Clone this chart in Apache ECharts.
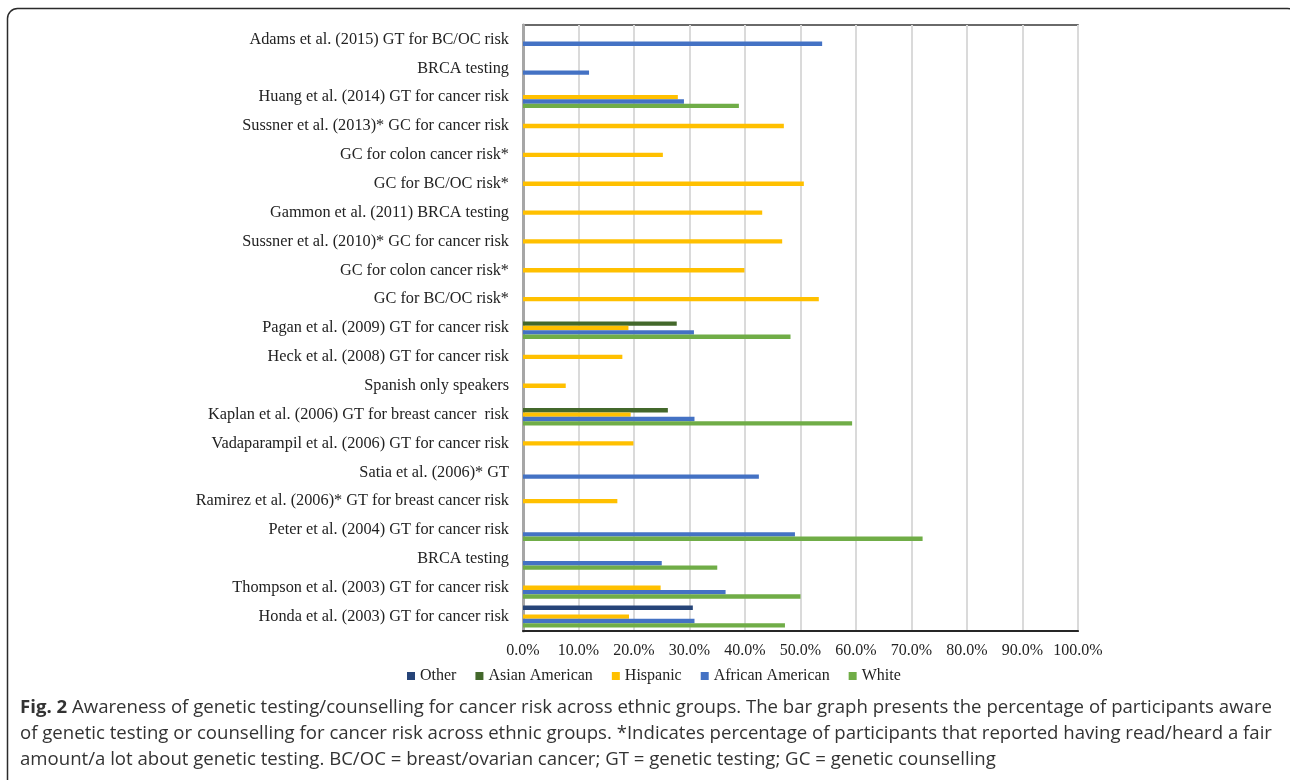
<!DOCTYPE html>
<html>
<head>
<meta charset="utf-8">
<script src="https://cdn.jsdelivr.net/npm/echarts@6/dist/echarts.min.js"></script>
<style>
  html, body { margin: 0; padding: 0; background: #fff; }
  #chart { width: 1290px; height: 780px; }
</style>
</head>
<body>
<div id="chart"></div>
<script>
// Studies / sub-groups, listed top to bottom
const categories = [
  'Adams et al. (2015) GT for BC/OC risk',
  'BRCA testing',
  'Huang et al. (2014) GT for cancer risk',
  'Sussner et al. (2013)* GC for cancer risk',
  'GC for colon cancer risk*',
  'GC for BC/OC risk*',
  'Gammon et al. (2011) BRCA testing',
  'Sussner et al. (2010)* GC for cancer risk',
  'GC for colon cancer risk*',
  'GC for BC/OC risk*',
  'Pagan et al. (2009) GT for cancer risk',
  'Heck et al. (2008) GT for cancer risk',
  'Spanish only speakers',
  'Kaplan et al. (2006) GT for breast cancer  risk',
  'Vadaparampil et al. (2006) GT for cancer risk',
  'Satia et al. (2006)* GT',
  'Ramirez et al. (2006)* GT for breast cancer risk',
  'Peter et al. (2004) GT for cancer risk',
  'BRCA testing',
  'Thompson et al. (2003) GT for cancer risk',
  'Honda et al. (2003) GT for cancer risk'
];

// Percentage aware, per ethnic group (null = not reported)
const other = [null, null, null, null, null, null, null, null, null, null, null, null, null, null, null, null, null, null, null, null, 30.6];
const asianAmerican = [null, null, null, null, null, null, null, null, null, null, 27.7, null, null, 26.1, null, null, null, null, null, null, null];
const hispanic = [null, null, 27.9, 47.0, 25.2, 50.6, 43.1, 46.7, 39.9, 53.3, 19.0, 17.9, 7.7, 19.4, 19.9, null, 17.0, null, null, 24.8, 19.1];
const africanAmerican = [53.9, 11.9, 29.0, null, null, null, null, null, null, null, 30.8, null, null, 30.9, null, 42.5, null, 49.0, 25.0, 36.5, 30.9];
const white = [null, null, 38.9, null, null, null, null, null, null, null, 48.2, null, null, 59.3, null, null, null, 72.0, 35.0, 50.0, 47.2];

const seriesNames = ['Other', 'Asian American', 'Hispanic', 'African American', 'White'];
const seriesData = [other, asianAmerican, hispanic, africanAmerican, white];
const seriesColors = ['#264478', '#43682B', '#FFC000', '#4472C4', '#70AD47'];

const xTicks = { min: 0, max: 100, interval: 10 };

const captionLines = [
  '{b|Fig. 2} Awareness of genetic testing/counselling for cancer risk across ethnic groups. The bar graph presents the percentage of participants aware',
  'of genetic testing or counselling for cancer risk across ethnic groups. *Indicates percentage of participants that reported having read/heard a fair',
  'amount/a lot about genetic testing. BC/OC = breast/ovarian cancer; GT = genetic testing; GC = genetic counselling'
];

const serif = '"Liberation Serif", "DejaVu Serif", serif';
const sans = '"Open Sans", "Noto Sans", sans-serif';

const chart = echarts.init(document.getElementById('chart'), null, { renderer: 'canvas' });

chart.setOption({
  backgroundColor: '#ffffff',
  animation: false,
  title: {
    left: 20,
    top: 695,
    padding: 0,
    text: captionLines.join('\n'),
    textStyle: {
      fontFamily: sans,
      fontSize: 18.6,
      fontWeight: 'normal',
      lineHeight: 26,
      color: '#333333',
      rich: {
        b: { fontFamily: sans, fontSize: 18.6, fontWeight: 'bold', color: '#333333', lineHeight: 26 }
      }
    }
  },
  graphic: [{
    type: 'rect',
    shape: { x: 7.5, y: 8.5, width: 1290, height: 800, r: 10 },
    style: { fill: 'none', stroke: '#2b2b2b', lineWidth: 1.5 },
    silent: true,
    z: 100
  }],
  legend: {
    data: seriesNames,
    left: 402,
    top: 663,
    itemWidth: 8,
    itemHeight: 8,
    itemGap: 19,
    icon: 'rect',
    textStyle: { fontFamily: serif, fontSize: 16, color: '#222222' }
  },
  grid: {
    left: 523,
    right: 212,
    top: 25,
    bottom: 149,
    show: true,
    borderColor: '#3a3a3a',
    borderWidth: 1.5,
    containLabel: false
  },
  xAxis: {
    type: 'value',
    min: xTicks.min,
    max: xTicks.max,
    interval: xTicks.interval,
    axisLine: { show: true, lineStyle: { color: '#262626', width: 2 } },
    axisTick: { show: false },
    splitLine: { show: true, lineStyle: { color: '#dadada', width: 2 } },
    axisLabel: {
      margin: 12,
      fontFamily: serif,
      fontSize: 16,
      color: '#222222',
      formatter: v => v.toFixed(1) + '%'
    }
  },
  yAxis: {
    type: 'category',
    inverse: true,
    data: categories,
    axisLine: { show: true, lineStyle: { color: '#a6a6a6', width: 3 } },
    axisTick: { show: false },
    axisLabel: {
      margin: 14,
      padding: [3, 0, 0, 0],
      fontFamily: serif,
      fontSize: 16.3,
      color: '#222222'
    }
  },
  series: seriesNames.map((name, i) => ({
    name,
    type: 'bar',
    data: seriesData[i],
    barGap: '0%',
    barCategoryGap: '24%',
    itemStyle: { color: seriesColors[i] }
  }))
});
</script>
</body>
</html>
